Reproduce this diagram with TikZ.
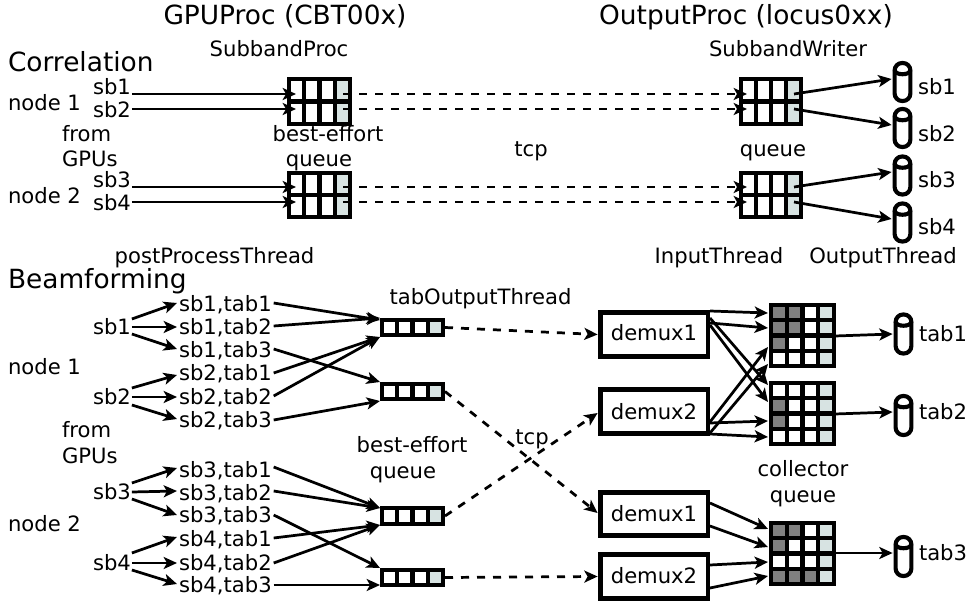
\documentclass[tikz,border=0pt]{standalone}
\usepackage{fontspec}
\setmainfont{DejaVu Sans}
\usetikzlibrary{arrows.meta}
\definecolor{lightq}{HTML}{D7E3E2}
\definecolor{darkq}{HTML}{808080}
\tikzset{
  x=0.75pt,y=-0.75pt,
  lbl/.style={inner sep=0pt,outer sep=0pt,font=\fontsize{15.85}{18}\selectfont},
  big/.style={inner sep=0pt,outer sep=0pt,font=\fontsize{19.8}{22}\selectfont},
  tipsty/.style={-{Stealth[length=10pt,width=9pt,inset=2.5pt]}},
  arr/.style={tipsty,line width=2.05pt},
  darr/.style={tipsty,line width=2.05pt,dash pattern=on 6pt off 6pt},
  qbox/.style={draw,inner sep=0pt,outer sep=0pt,rectangle,line width=3.2pt},
  demuxbox/.style={draw,line width=3.4pt,inner sep=0pt,outer sep=0pt,rectangle,font=\fontsize{15.85}{18}\selectfont,text depth=0pt},
  cylbox/.style={draw,line width=3.1pt,inner sep=0pt,outer sep=0pt,rectangle,rounded corners=5.6pt,fill=white},
}
% \queue{name}{x0}{y0}{x1}{y1}{cols}{rows}{list of dark cells c/r}{line width}
\newcommand{\queue}[9]{%
  \pgfmathsetmacro{\qw}{(#4-#2)/#6}\pgfmathsetmacro{\qh}{(#5-#3)/#7}%
  \pgfmathsetmacro{\qcx}{(#2+#4)/2}\pgfmathsetmacro{\qcy}{(#3+#5)/2}%
  \pgfmathsetmacro{\qwd}{(#4-#2)*0.75}\pgfmathsetmacro{\qht}{(#5-#3)*0.75}%
  \pgfmathtruncatemacro{\qlastc}{#6-1}%
  \fill[lightq] ({#4-\qw},#3) rectangle (#4,#5);%
  \foreach \cc/\rr in {#8}{\fill[darkq] ({#2+\cc*\qw},{#3+\rr*\qh}) rectangle ++(\qw,\qh);}%
  \foreach \cc in {1,...,\qlastc}{\draw[line width=#9] ({#2+\cc*\qw},#3) -- ({#2+\cc*\qw},#5);}%
  \ifnum#7>1\relax
    \pgfmathtruncatemacro{\qlastr}{#7-1}%
    \foreach \rr in {1,...,\qlastr}{\draw[line width=#9] (#2,{#3+\rr*\qh}) -- (#4,{#3+\rr*\qh});}%
  \fi
  \node[qbox,line width=#9,minimum width=\qwd pt,minimum height=\qht pt] (#1) at (\qcx,\qcy) {};%
}
% \cyl{name}{cx}{cy}{height}
\newcommand{\cyl}[4]{%
  \pgfmathsetmacro{\cht}{#4*0.75}%
  \node[cylbox,minimum width=11.8pt,minimum height=\cht pt] (#1) at (#2,#3) {};%
  \draw[line width=3.1pt] ([yshift=-5.2pt]#1.north west) .. controls ([yshift=-9.5pt]#1.north west) and ([yshift=-9.5pt]#1.north east) .. ([yshift=-5.2pt]#1.north east);%
}
% \lk{style}{from anchor}{dx,dy}{to anchor}{dx,dy}
\newcommand{\lk}[5]{\draw[#1] ([shift={(#3)}]#2) -- ([shift={(#5)}]#4);}
\begin{document}
\begin{tikzpicture}
\useasboundingbox (0,0) rectangle (968,602);
% titles
\node[big,anchor=base] (t1) at (285,25) {GPUProc (CBT00x)};
\node[big,anchor=base] (t2) at (746,25) {OutputProc (locus0xx)};
\node[big,anchor=base west] (corr) at (8,72) {Correlation};
\node[big,anchor=base west] (beam) at (8,289) {Beamforming};
% correlation labels
\node[lbl,anchor=base] (subproc) at (279,57) {SubbandProc};
\node[lbl,anchor=base] (subwr) at (788,57) {SubbandWriter};
\node[lbl,anchor=base west] (n1) at (8,111) {node 1};
\node[lbl,anchor=base west] (n2) at (8,204) {node 2};
\node[lbl,anchor=base west] (a1) at (93,95) {sb1};
\node[lbl,anchor=base west] (a2) at (93,118) {sb2};
\node[lbl,anchor=base west] (a3) at (93,188) {sb3};
\node[lbl,anchor=base west] (a4) at (93,211) {sb4};
\node[lbl,anchor=base west] (fr1) at (62,142) {from};
\node[lbl,anchor=base west] (gp1) at (62,167) {GPUs};
\node[lbl,anchor=base] (be1) at (328,142) {best-effort};
\node[lbl,anchor=base] (qu1) at (319,167) {queue};
\node[lbl,anchor=base] (tcp1) at (531,157) {tcp};
\node[lbl,anchor=base] (qu2) at (773,157) {queue};
\node[lbl,anchor=base] (pp) at (214.5,264) {postProcessThread};
\node[lbl,anchor=base] (it) at (719,264) {InputThread};
\node[lbl,anchor=base] (ot) at (883,264) {OutputThread};
\node[lbl,anchor=base west] (z1) at (918,95) {sb1};
\node[lbl,anchor=base west] (z2) at (918,142) {sb2};
\node[lbl,anchor=base west] (z3) at (918,188) {sb3};
\node[lbl,anchor=base west] (z4) at (918,235) {sb4};
% correlation queues
\queue{qa}{289}{79}{350}{124}{4}{2}{}{3.2pt}
\queue{qb}{289}{173}{350}{217}{4}{2}{}{3.2pt}
\queue{qc}{741}{79}{801}{124}{4}{2}{}{3.2pt}
\queue{qd}{741}{173}{801}{217}{4}{2}{}{3.2pt}
\cyl{c1}{902.5}{82}{38}
\cyl{c2}{902.5}{128}{38}
\cyl{c3}{902.5}{175.5}{38}
\cyl{c4}{902.5}{222.5}{38}
% correlation connectors
\lk{arr}{a1.base east}{1,-1}{qa.west}{7,-7.5}
\lk{arr}{a2.base east}{1,-9}{qa.west}{7,7.5}
\lk{arr}{a3.base east}{1,-1}{qb.west}{7,-8}
\lk{arr}{a4.base east}{1,-9}{qb.west}{7,7}
\lk{darr}{qa.east}{-7,-7.5}{qc.west}{6,-7.5}
\lk{darr}{qa.east}{-7,7.5}{qc.west}{6,7.5}
\lk{darr}{qb.east}{-7,-8}{qd.west}{6,-8}
\lk{darr}{qb.east}{-7,7}{qd.west}{6,7}
\lk{arr}{qc.east}{-7,-7.5}{c1.west}{-3,-3}
\lk{arr}{qc.east}{-7,7.5}{c2.west}{-3,-3}
\lk{arr}{qd.east}{-7,-8}{c3.west}{-3,-3.5}
\lk{arr}{qd.east}{-7,7}{c4.west}{-3,-3.5}
% beamforming labels
\node[lbl,anchor=base west] (n3) at (8,374) {node 1};
\node[lbl,anchor=base west] (n4) at (8,531) {node 2};
\node[lbl,anchor=base west] (fr2) at (62,437) {from};
\node[lbl,anchor=base west] (gp2) at (62,463) {GPUs};
\node[lbl,anchor=base] (tot) at (480.5,305) {tabOutputThread};
\node[lbl,anchor=base] (be2) at (412,452) {best-effort};
\node[lbl,anchor=base] (qu3) at (403,478) {queue};
\node[lbl,anchor=base] (tcp2) at (532,444) {tcp};
\node[lbl,anchor=base] (col) at (803,476) {collector};
\node[lbl,anchor=base] (qu4) at (803,502) {queue};
\node[lbl,anchor=base west] (b1) at (93,335) {sb1};
\node[lbl,anchor=base west] (b2) at (93,405) {sb2};
\node[lbl,anchor=base west] (b3) at (93,499) {sb3};
\node[lbl,anchor=base west] (b4) at (93,570) {sb4};
\node[lbl,anchor=base west] (s11) at (179,312) {sb1,tab1};
\node[lbl,anchor=base west] (s12) at (179,335) {sb1,tab2};
\node[lbl,anchor=base west] (s13) at (179,358) {sb1,tab3};
\node[lbl,anchor=base west] (s21) at (179,381) {sb2,tab1};
\node[lbl,anchor=base west] (s22) at (179,404) {sb2,tab2};
\node[lbl,anchor=base west] (s23) at (179,427) {sb2,tab3};
\node[lbl,anchor=base west] (s31) at (179,477) {sb3,tab1};
\node[lbl,anchor=base west] (s32) at (179,500) {sb3,tab2};
\node[lbl,anchor=base west] (s33) at (179,522) {sb3,tab3};
\node[lbl,anchor=base west] (s41) at (179,546) {sb4,tab1};
\node[lbl,anchor=base west] (s42) at (179,570) {sb4,tab2};
\node[lbl,anchor=base west] (s43) at (179,592) {sb4,tab3};
% tab queues
\queue{p1}{382}{320}{443}{335}{4}{1}{}{3.2pt}
\queue{p2}{382}{384}{443}{399}{4}{1}{}{3.2pt}
\queue{p3}{382}{508}{443}{524}{4}{1}{}{3.2pt}
\queue{p4}{382}{570}{443}{585}{4}{1}{}{3.2pt}
% demux
\node[demuxbox,minimum width=80.5pt,minimum height=33pt] (d1) at (654.3,334.5) {};
\node[demuxbox,minimum width=80.5pt,minimum height=33pt] (d2) at (654.3,411.5) {};
\node[demuxbox,minimum width=80.5pt,minimum height=32.5pt] (d3) at (654.3,514) {};
\node[demuxbox,minimum width=80.5pt,minimum height=33pt] (d4) at (654.3,576.5) {};
\node[lbl,anchor=base] (dt1) at (654,341) {demux1};
\node[lbl,anchor=base] (dt2) at (654,419) {demux2};
\node[lbl,anchor=base] (dt3) at (654,521) {demux1};
\node[lbl,anchor=base] (dt4) at (654,583) {demux2};
% collector queues
\queue{k1}{771}{305}{834}{366}{4}{4}{0/0,1/0,0/1,1/1,0/2}{3.2pt}
\queue{k2}{771}{383}{834}{444}{4}{4}{0/1,0/2}{3.2pt}
\queue{k3}{771}{523}{834}{584}{4}{4}{0/0,1/0,0/1,0/3,1/3,2/3}{3.2pt}
\cyl{t1c}{903.5}{334}{39}
\cyl{t2c}{903.5}{415.5}{39}
\cyl{t3c}{903.5}{556.5}{39}
\node[lbl,anchor=base west] (tt1) at (919,342) {tab1};
\node[lbl,anchor=base west] (tt2) at (919,419) {tab2};
\node[lbl,anchor=base west] (tt3) at (919,560) {tab3};
% sb -> sb,tab
\lk{arr}{b1.base east}{1,-16}{s11.base west}{-2,-9}
\lk{arr}{b1.base east}{1,-8}{s12.base west}{-2,-8}
\lk{arr}{b1.base east}{1,-1}{s13.base west}{-2,-9}
\lk{arr}{b2.base east}{1,-17}{s21.base west}{-2,-6}
\lk{arr}{b2.base east}{1,-8}{s22.base west}{-2,-7}
\lk{arr}{b2.base east}{1,0}{s23.base west}{-2,-8}
\lk{arr}{b3.base east}{1,-16}{s31.base west}{-2,-9}
\lk{arr}{b3.base east}{1,-7}{s32.base west}{-2,-9}
\lk{arr}{b3.base east}{1,0}{s33.base west}{-2,-7}
\lk{arr}{b4.base east}{1,-17}{s41.base west}{-2,-9}
\lk{arr}{b4.base east}{1,-7}{s42.base west}{-2,-7}
\lk{arr}{b4.base east}{1,0}{s43.base west}{-2,-8}
% sb,tab -> queue
\lk{arr}{s11.base east}{2,-9}{p1.west}{-2,-7.5}
\lk{arr}{s12.base east}{2,-9}{p1.west}{-2,-9.5}
\lk{arr}{s13.base east}{2,-9}{p2.west}{-2,-9.5}
\lk{arr}{s21.base east}{2,-8}{p1.west}{-2,9.5}
\lk{arr}{s22.base east}{2,-8}{p1.west}{-2,9.5}
\lk{arr}{s23.base east}{2,-7}{p2.west}{-2,9.5}
\lk{arr}{s31.base east}{2,-10}{p3.west}{-2,-8}
\lk{arr}{s32.base east}{2,-9}{p3.west}{-2,-8}
\lk{arr}{s33.base east}{2,-7}{p4.west}{-2,-9.5}
\lk{arr}{s41.base east}{2,-8}{p3.west}{-2,9}
\lk{arr}{s42.base east}{2,-7}{p3.west}{-2,9}
\lk{arr}{s43.base east}{2,-7}{p4.west}{-2,7.5}
% tcp
\lk{darr}{p1.east}{2,0}{d1.west}{-3,0}
\lk{darr}{p2.east}{2,0}{d3.west}{-3,-1}
\lk{darr}{p3.east}{2,0}{d2.west}{-3,1.5}
\lk{darr}{p4.east}{2,0}{d4.west}{-3,0}
% demux -> collector
\lk{arr}{d1.east}{2,-23.5}{k1.west}{-3,-22.5}
\lk{arr}{d1.east}{2,-11.5}{k1.west}{-3,-7.5}
\lk{arr}{d1.east}{2,-16.5}{k2.west}{-3,-28.5}
\lk{arr}{d1.east}{2,-9.5}{k2.west}{-3,-11.5}
\lk{arr}{d2.east}{2,10.5}{k1.west}{-3,11.5}
\lk{arr}{d2.east}{2,21.5}{k1.west}{-3,28.5}
\lk{arr}{d2.east}{2,11.5}{k2.west}{-3,7.5}
\lk{arr}{d2.east}{2,22.5}{k2.west}{-3,23.5}
\lk{arr}{d3.east}{2,-11}{k3.west}{-3,-24.5}
\lk{arr}{d3.east}{2,12}{k3.west}{-3,-6.5}
\lk{arr}{d4.east}{2,-11.5}{k3.west}{-3,8.5}
\lk{arr}{d4.east}{2,11.5}{k3.west}{-3,22.5}
\lk{arr}{k1.east}{1,0.5}{t1c.west}{-3,0}
\lk{arr}{k2.east}{1,0.5}{t2c.west}{-3,-3.5}
\lk{arr}{k3.east}{1,-0.5}{t3c.west}{-3,-3.5}
\end{tikzpicture}
\end{document}
